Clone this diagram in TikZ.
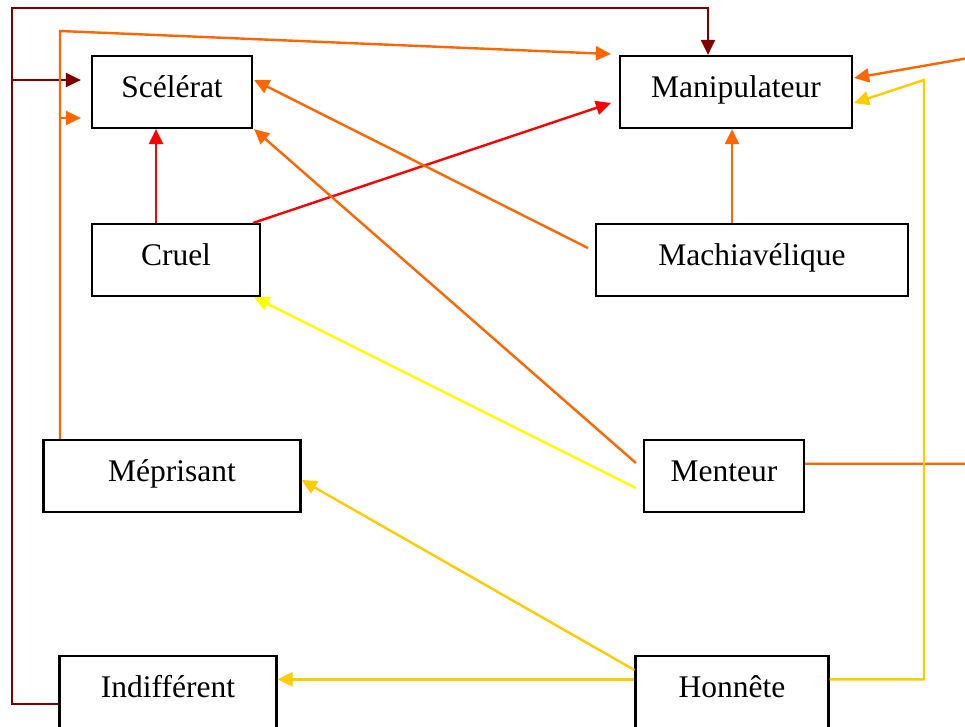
\documentclass[tikz,border=0pt]{standalone}
\usepackage{fontspec}
\setmainfont{Liberation Serif}
\usetikzlibrary{arrows.meta,calc}
\definecolor{cdark}{HTML}{800000}
\definecolor{corange}{HTML}{FF6600}
\definecolor{cred}{HTML}{FF0000}
\definecolor{cyellow}{HTML}{FFFF00}
\definecolor{cgold}{HTML}{FFCC00}
\tikzset{
  box/.style={draw=black, line width=2.2pt, inner sep=0pt, minimum height=72pt,
    text height=41pt, text depth=31pt, font=\fontsize{31.5}{36}\selectfont},
  conn/.style={line width=2.4pt},
  tip/.style={-{Triangle[length=15pt,width=14pt]}},
}
\begin{document}
\begin{tikzpicture}[x=1pt,y=-1pt]
\useasboundingbox (0,0) rectangle (965,726);
\clip (0,0) rectangle (965,726);
\fill[white] (0,0) rectangle (965,726);
% boxes
\node[box, minimum width=160pt] (scel) at (172,92) {Scélérat};
\node[box, minimum width=232pt] (manip) at (736,92) {Manipulateur};
\node[box, minimum width=168pt] (cruel) at (176,260) {Cruel};
\node[box, minimum width=312pt] (mach) at (752,260) {Machiavélique};
\node[box, minimum width=257pt] (mepr) at (172,476) {Méprisant};
\node[box, minimum width=160pt] (ment) at (724,476) {Menteur};
\node[box, minimum width=217pt] (indif) at (168,692) {Indifférent};
\node[box, minimum width=193pt] (honn) at (732,692) {Honnête};
% corner coordinates
\coordinate (dA) at (12,8);
\coordinate (dB) at (12,80);
\coordinate (oA) at (60,31);
\coordinate (oB) at (60,118);
\coordinate (oR1) at (980,463.7);
\coordinate (oR2) at (980,56);
\coordinate (gA) at (924,679.3);
\coordinate (gB) at (924,80);
% dark red
\draw[conn, cdark, tip] ([yshift=-12pt]indif.west) -| (dA) -| ([xshift=-28pt]manip.north);
\draw[conn, cdark, tip] (dB) -- ([xshift=-10pt,yshift=12pt]scel.west);
% orange from Meprisant
\draw[conn, corange, tip] ([xshift=-112pt]mepr.north) -- (oA) -- ([xshift=-8pt,yshift=38pt]manip.west);
\draw[conn, corange, tip] (oB) -- ([xshift=-10pt,yshift=-26pt]scel.west);
% red from Cruel
\draw[conn, cred, tip] ([xshift=-20pt]cruel.north) -- ([xshift=-20pt]cruel.north |- scel.south);
\draw[conn, cred, tip] ([xshift=-8pt]cruel.north east) -- ([xshift=-8pt,yshift=-11pt]manip.west);
% orange from Machiavelique
\draw[conn, corange, tip] ([xshift=-20pt]mach.north) -- ([xshift=-20pt]mach.north |- manip.south);
\draw[conn, corange, tip] ([xshift=-7pt,yshift=12pt]mach.west) -- ([xshift=1pt,yshift=12pt]scel.east);
% from Menteur
\draw[conn, corange, tip] ([xshift=-7pt,yshift=13pt]ment.west) -- ([xshift=1pt]scel.south east);
\draw[conn, cyellow, tip] ([xshift=-7pt,yshift=-12pt]ment.west) -- ([xshift=-7pt]cruel.south east);
\draw[conn, corange, tip] ([yshift=12.3pt]ment.east) -- (oR1) -- (oR2) -- ([xshift=1pt,yshift=14pt]manip.east);
% from Honnete
\draw[conn, cgold, tip] ([yshift=12.7pt]honn.east) -- (gA) -- (gB) -- ([xshift=1pt,yshift=-11pt]manip.east);
\draw[conn, cgold, tip] ([yshift=12.7pt]honn.west) -- ([yshift=12.7pt]honn.west -| indif.east);
\draw[conn, cgold, tip] ([yshift=22pt]honn.west) -- ([yshift=-4pt]mepr.east);
\end{tikzpicture}
\end{document}
